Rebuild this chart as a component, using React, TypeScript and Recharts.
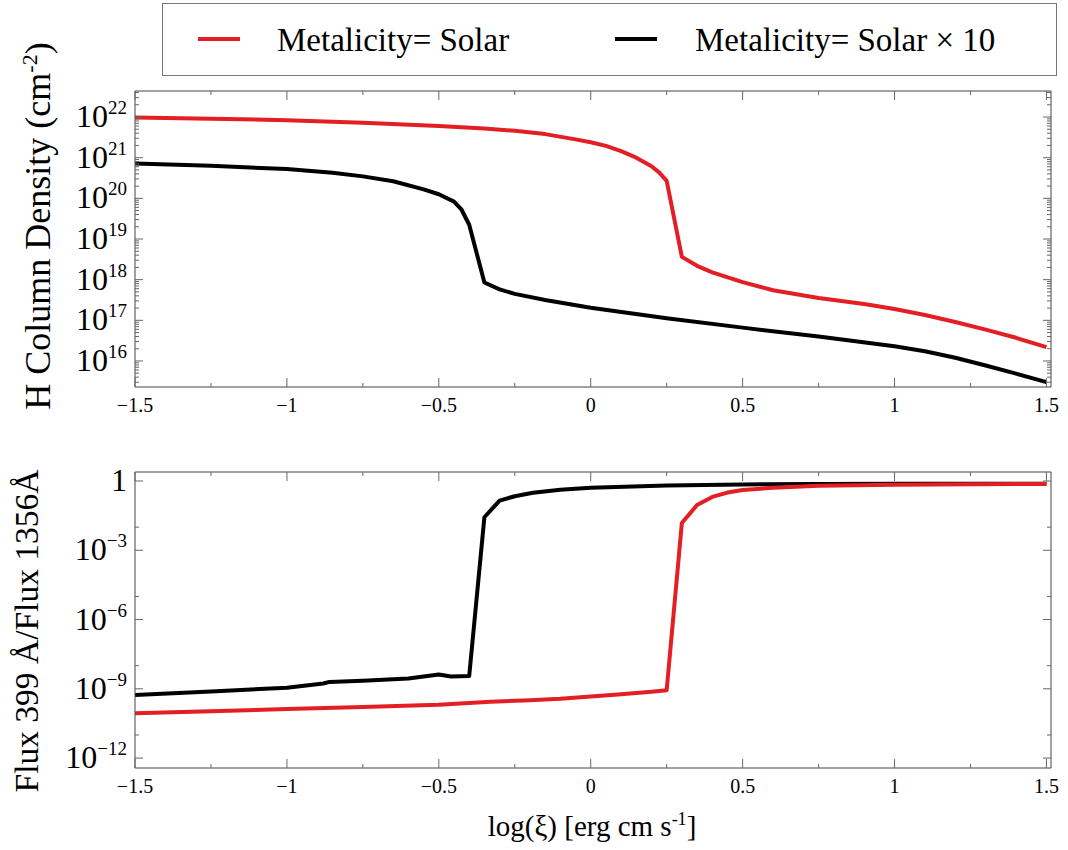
import React from "react";
import { LineChart, Line, XAxis, YAxis } from "recharts";

const FONT = '"Liberation Serif", "Times New Roman", serif';
const RED = "#e31e24";
const FRAME = "#444";
const TICK = "#666";

// shared x axis: log(xi)
const xTicks = [-1.5, -1.25, -1, -0.75, -0.5, -0.25, 0, 0.25, 0.5, 0.75, 1, 1.25, 1.5];
const xLabels = [-1.5, -1, -0.5, 0, 0.5, 1, 1.5];
const xDomain = [-1.5, 1.515];

// top panel: H column density, stored as log10(cm^-2)
const redTopX = [-1.5, -1.25, -1.0, -0.75, -0.5, -0.35, -0.25, -0.15, -0.05, 0, 0.05, 0.1, 0.15, 0.2, 0.225, 0.25, 0.3, 0.35, 0.4, 0.5, 0.6, 0.75, 0.9, 1.0, 1.1, 1.2, 1.3, 1.4, 1.5];
const redTopLog = [21.99, 21.96, 21.92, 21.86, 21.78, 21.72, 21.66, 21.58, 21.45, 21.38, 21.29, 21.16, 21.0, 20.79, 20.64, 20.43, 18.56, 18.34, 18.18, 17.94, 17.74, 17.55, 17.4, 17.28, 17.13, 16.96, 16.77, 16.57, 16.34];

const blackTopX = [-1.5, -1.25, -1.0, -0.85, -0.75, -0.65, -0.55, -0.5, -0.45, -0.425, -0.4, -0.35, -0.3, -0.25, -0.15, 0, 0.25, 0.5, 0.75, 1.0, 1.1, 1.2, 1.3, 1.4, 1.5];
const blackTopLog = [20.86, 20.8, 20.72, 20.63, 20.54, 20.42, 20.22, 20.1, 19.92, 19.72, 19.35, 17.93, 17.76, 17.65, 17.5, 17.31, 17.05, 16.82, 16.6, 16.36, 16.24, 16.08, 15.89, 15.69, 15.48];

const topMajorExp = [16, 17, 18, 19, 20, 21, 22];
const topDomain = [Math.pow(10, 15.36), Math.pow(10, 22.64)];

// bottom panel: flux ratio 399A / 1356A, stored as log10
const redBotX = [-1.5, -1.25, -1.0, -0.75, -0.5, -0.33, -0.2, -0.1, 0, 0.1, 0.2, 0.25, 0.3, 0.35, 0.4, 0.45, 0.5, 0.6, 0.75, 1.0, 1.25, 1.5];
const redBotLog = [-10.06, -9.97, -9.88, -9.79, -9.69, -9.56, -9.5, -9.43, -9.33, -9.24, -9.13, -9.06, -1.82, -1.04, -0.69, -0.5, -0.39, -0.29, -0.21, -0.16, -0.14, -0.13];

const blackBotX = [-1.5, -1.25, -1.0, -0.88, -0.86, -0.75, -0.6, -0.5, -0.46, -0.4, -0.35, -0.3, -0.25, -0.19, -0.1, 0, 0.25, 0.5, 0.75, 1.0, 1.25, 1.5];
const blackBotLog = [-9.27, -9.12, -8.95, -8.77, -8.7, -8.65, -8.55, -8.38, -8.47, -8.45, -1.57, -0.85, -0.66, -0.51, -0.38, -0.29, -0.19, -0.15, -0.13, -0.12, -0.12, -0.12];

const botMajorExp = [0, -3, -6, -9, -12];
const botMinorExp = [-2, -5, -8, -11];
const botDomain = [Math.pow(10, -12.43), Math.pow(10, 0.39)];

const legendNames = ["Metalicity= Solar", "Metalicity= Solar \u00d7 10"];

const toRows = (xs: number[], logs: number[]) =>
  xs.map((x, i) => ({ x, y: Math.pow(10, logs[i]) }));

function logMinorTicks(lo: number, hi: number) {
  const out: number[] = [];
  for (let n = Math.floor(Math.log10(lo)); n <= Math.ceil(Math.log10(hi)); n++) {
    for (let m = 1; m <= 9; m++) {
      const v = m * Math.pow(10, n);
      if (v >= lo && v <= hi) out.push(v);
    }
  }
  return out;
}

const isExp = (v: number, exps: number[]) => {
  const l = Math.log10(v);
  return exps.some((e) => Math.abs(l - e) < 1e-6);
};

const fmtX = (v: number) => (v < 0 ? "\u2212" + String(-v) : String(v));

function XTick(props: any) {
  const { x, y, payload, side } = props;
  const v = payload.value;
  const major = xLabels.some((m) => Math.abs(m - v) < 1e-9);
  const len = major ? 9 : 4;
  const dir = side === "bottom" ? -1 : 1;
  return (
    <g>
      <line x1={x} x2={x} y1={y} y2={y + dir * len} stroke={TICK} strokeWidth={1} />
      {side === "bottom" && major && (
        <text x={x} y={y + 25} textAnchor="middle" fontFamily={FONT} fontSize={20} fill="#000">
          {fmtX(v)}
        </text>
      )}
    </g>
  );
}

function YTick(props: any) {
  const { x, y, payload, side, majors, labels } = props;
  const v = payload.value;
  const major = isExp(v, majors);
  const len = major ? 8 : 4;
  const dir = side === "left" ? 1 : -1;
  const e = Math.round(Math.log10(v));
  return (
    <g>
      <line x1={x} x2={x + dir * len} y1={y} y2={y} stroke={TICK} strokeWidth={1} />
      {side === "left" && major && labels && (
        <text x={x - 8} y={y + 10} textAnchor="end" fontFamily={FONT} fontSize={32} fill="#000">
          {e === 0 ? (
            "1"
          ) : (
            <>
              10
              <tspan dy={-13} fontSize={19}>
                {e < 0 ? "\u2212" + String(-e) : String(e)}
              </tspan>
            </>
          )}
        </text>
      )}
    </g>
  );
}

function Panel(props: {
  height: number;
  margin: { top: number; right: number; bottom: number; left: number };
  domain: number[];
  yTicks: number[];
  majors: number[];
  red: { x: number; y: number }[];
  black: { x: number; y: number }[];
}) {
  const { height, margin, domain, yTicks, majors, red, black } = props;
  const common = {
    type: "number" as const,
    domain: domain,
    scale: "log" as const,
    ticks: yTicks,
    interval: 0 as const,
    allowDataOverflow: true,
    width: 1,
    tickSize: 0,
    tickMargin: 0,
    tickLine: false,
    axisLine: { stroke: FRAME, strokeWidth: 1 },
  };
  const xCommon = {
    type: "number" as const,
    dataKey: "x",
    domain: xDomain,
    ticks: xTicks,
    interval: 0 as const,
    allowDataOverflow: true,
    height: 1,
    tickSize: 0,
    tickMargin: 0,
    tickLine: false,
    axisLine: { stroke: FRAME, strokeWidth: 1 },
  };
  return (
    <LineChart width={1068} height={height} margin={margin}>
      <XAxis xAxisId="b" orientation="bottom" {...xCommon} tick={(p: any) => <XTick {...p} side="bottom" />} />
      <XAxis xAxisId="t" orientation="top" {...xCommon} tick={(p: any) => <XTick {...p} side="top" />} />
      <YAxis yAxisId="l" orientation="left" {...common} tick={(p: any) => <YTick {...p} side="left" majors={majors} labels />} />
      <YAxis yAxisId="r" orientation="right" {...common} tick={(p: any) => <YTick {...p} side="right" majors={majors} />} />
      <Line xAxisId="b" yAxisId="l" data={black} dataKey="y" type="linear" stroke="#000" strokeWidth={4} dot={false} isAnimationActive={false} strokeLinejoin="round" />
      <Line xAxisId="b" yAxisId="l" data={red} dataKey="y" type="linear" stroke={RED} strokeWidth={4} dot={false} isAnimationActive={false} strokeLinejoin="round" />
    </LineChart>
  );
}

export default function App() {
  const topTicks = logMinorTicks(topDomain[0], topDomain[1]);
  const botTicks = [...botMajorExp, ...botMinorExp].map((e) => Math.pow(10, e));
  return (
    <div style={{ position: "absolute", left: 0, top: 0, width: 1068, height: 850, background: "#fff" }}>
      <div style={{ position: "absolute", left: 0, top: 0 }}>
        <Panel
          height={420}
          margin={{ top: 90, right: 16, bottom: 32, left: 134 }}
          domain={topDomain}
          yTicks={topTicks}
          majors={topMajorExp}
          red={toRows(redTopX, redTopLog)}
          black={toRows(blackTopX, blackTopLog)}
        />
      </div>
      <div style={{ position: "absolute", left: 0, top: 420 }}>
        <Panel
          height={430}
          margin={{ top: 51, right: 16, bottom: 81, left: 134 }}
          domain={botDomain}
          yTicks={botTicks}
          majors={botMajorExp}
          red={toRows(redBotX, redBotLog)}
          black={toRows(blackBotX, blackBotLog)}
        />
      </div>
      <svg width={1068} height={850} style={{ position: "absolute", left: 0, top: 0, pointerEvents: "none" }} fontFamily={FONT}>
        <rect x={162.5} y={3.5} width={894} height={72} fill="#fff" stroke="#777" strokeWidth={1} />
        <line x1={198} x2={240} y1={39} y2={39} stroke={RED} strokeWidth={4} />
        <text x={277} y={51} fontSize={33} fill="#000">{legendNames[0]}</text>
        <line x1={615} x2={657} y1={39} y2={39} stroke="#000" strokeWidth={4} />
        <text x={695} y={51} fontSize={33} fill="#000">{legendNames[1]}</text>
        <text x={50} y={226} fontSize={36} textAnchor="middle" transform="rotate(-90 50 226)" fill="#000">
          H Column Density (cm<tspan dy={-13} fontSize={22}>-2</tspan>
          <tspan dy={13}>)</tspan>
        </text>
        <text x={38} y={631} fontSize={33.5} textAnchor="middle" transform="rotate(-90 38 631)" fill="#000">
          Flux 399 Å/Flux 1356Å
        </text>
        <text x={592} y={836} fontSize={29} textAnchor="middle" fill="#000">
          log(ξ) [erg cm s<tspan dy={-11} fontSize={18}>-1</tspan>
          <tspan dy={11}>]</tspan>
        </text>
      </svg>
    </div>
  );
}
